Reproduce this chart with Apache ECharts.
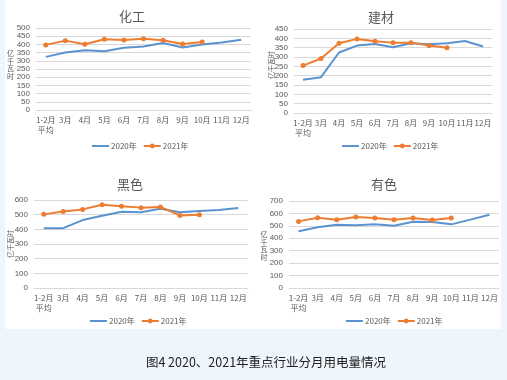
<!DOCTYPE html>
<html><head><meta charset="utf-8">
<script src="https://cdn.jsdelivr.net/npm/echarts@6/dist/echarts.min.js"></script>
<style>html,body{margin:0;padding:0;background:#eef5fc}#c{width:507px;height:380px}</style>
</head><body><div id="c"></div>
<script>
const categories = ['1-2月\n平均','3月','4月','5月','6月','7月','8月','9月','10月','11月','12月'];
const panelTitles = ['化工','建材','黑色','有色'];
const seriesNames = ['2020年','2021年'];
const yUnit = '亿千瓦时';
// 化工
const chem2020 = [324,350,364,358,379,387,409,381,399,411,429];
const chem2021 = [397,423,401,431,427,435,425,403,415];
// 建材
const build2020 = [178,192,324,361,370,352,374,368,374,386,356];
const build2021 = [254,292,374,397,384,377,377,361,349];
// 黑色
const ferrous2020 = [408,408,463,493,520,516,541,516,525,532,545];
const ferrous2021 = [502,522,536,568,557,548,552,495,500];
// 有色
const nonferrous2020 = [456,488,509,504,512,501,533,531,512,550,590];
const nonferrous2021 = [536,566,550,571,563,550,563,547,563];
const yMax = [500,450,600,700];
const yStep = [50,50,100,100];
const data2020 = [chem2020, build2020, ferrous2020, nonferrous2020];
const data2021 = [chem2021, build2021, ferrous2021, nonferrous2021];

const grids = [
  {left:36, right:256, top:28, bottom:270},
  {left:294, right:15, top:29, bottom:267},
  {left:34, right:259, top:200, bottom:92},
  {left:289, right:8, top:201, bottom:92}
];
const titlePos = [[127,5],[376,6],[125,173],[379,173]];
const legendLeft = [[86,137],[336,137],[84,312],[340,312]];
const namePos = [[10.5,65,'stack'],[271,65,'rot'],[10,244,'rot'],[264,246,'stack']];
const txt = '#595959';
const blue = '#5b93cf', orange = '#ed7d31';
const ff = '"Noto Sans CJK SC"';

const option = {
  backgroundColor:'#eef5fc',
  animation:false,
  graphic:[
    {type:'rect', shape:{x:5,y:0,width:496,height:329}, style:{fill:'#ffffff'}, z:-10},
    {type:'text', x:266, y:362, style:{text:'图4 2020、2021年重点行业分月用电量情况', fill:'#222', font:'12.5px '+ff, align:'center', verticalAlign:'middle'}}
  ],
  title:[], legend:[], grid:[], xAxis:[], yAxis:[], series:[]
};
namePos.forEach(p=>{
  if (p[2]==='stack') {
    option.graphic.push({type:'text', x:p[0], y:p[1], style:{text:yUnit.split('').join('\n'), fill:txt,
      font:'7px '+ff, lineHeight:7.5, align:'center', verticalAlign:'middle'}});
  } else {
    option.graphic.push({type:'text', x:p[0], y:p[1], rotation:Math.PI/2, style:{text:yUnit, fill:txt,
      font:'7px '+ff, align:'center', verticalAlign:'middle'}});
  }
});
for (let i=0;i<4;i++){
  option.title.push({text:panelTitles[i], left:titlePos[i][0], top:titlePos[i][1], textAlign:'center',
    textStyle:{fontSize:13, fontWeight:'normal', color:txt, fontFamily:'Noto Sans CJK SC'}});
  option.grid.push(Object.assign({containLabel:false}, grids[i]));
  option.xAxis.push({type:'category', gridIndex:i, data:categories, boundaryGap:true,
    axisLine:{lineStyle:{color:'#d9d9d9'}}, axisTick:{show:false},
    axisLabel:{color:txt, fontSize:8, margin:5, interval:0, lineHeight:10, fontFamily:'Noto Sans CJK SC'}});
  option.yAxis.push({type:'value', gridIndex:i, min:0, max:yMax[i], interval:yStep[i],
    axisLine:{show:false}, axisTick:{show:false},
    axisLabel:{color:txt, fontSize:8, margin:6},
    splitLine:{lineStyle:{color:'#d9d9d9', width:1}}});
  const n1 = seriesNames[0], n2 = seriesNames[1];
  option.series.push({name:n1, type:'line', xAxisIndex:i, yAxisIndex:i, data:data2020[i],
    symbol:'none', lineStyle:{color:blue, width:2}, itemStyle:{color:blue}});
  option.series.push({name:n2, type:'line', xAxisIndex:i, yAxisIndex:i, data:data2021[i],
    symbol:'circle', symbolSize:5, lineStyle:{color:orange, width:2}, itemStyle:{color:orange}});
  option.legend.push({data:[{name:n1, itemStyle:{opacity:0}}, n2], left:legendLeft[i][0], top:legendLeft[i][1],
    itemWidth:17, itemHeight:6, itemGap:6, textStyle:{color:txt, fontSize:8, padding:[0,0,0,-3], fontFamily:'Noto Sans CJK SC'}});
}
const chart = echarts.init(document.getElementById('c'));
chart.setOption(option);
</script></body></html>
